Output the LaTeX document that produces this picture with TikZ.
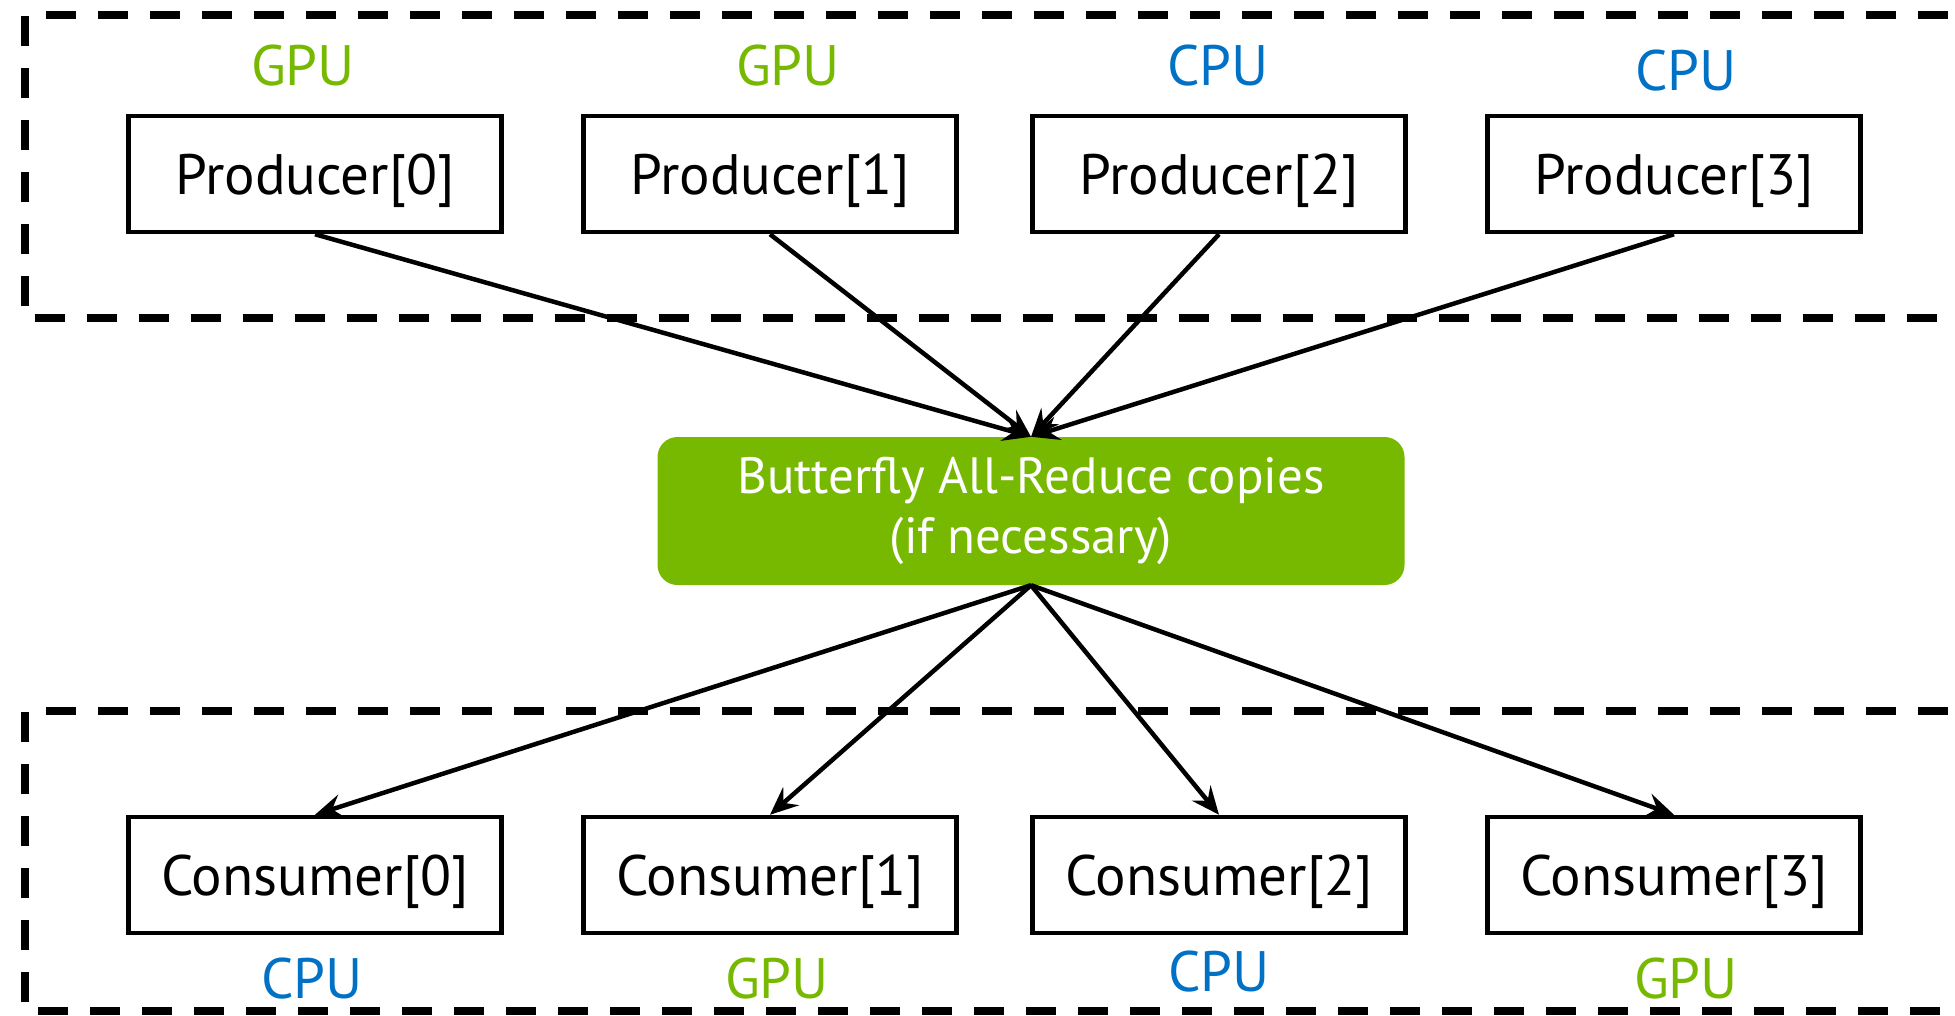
\documentclass[tikz,border=0pt]{standalone}
\usepackage{fontspec}
\setmainfont{PT Sans}
\usetikzlibrary{arrows.meta}
\definecolor{nvgreen}{HTML}{76B900}
\definecolor{cpublue}{HTML}{0071C5}
\tikzset{
  unitbox/.style={draw=black, line width=4.5pt, minimum width=373pt, minimum height=116pt,
    inner sep=0pt, text height=41pt, text depth=0pt, font=\fontsize{57}{66}\selectfont},
  reducebox/.style={fill=nvgreen, rounded corners=20pt, minimum width=747pt, minimum height=148pt,
    inner sep=0pt, text=white, align=center, font=\fontsize{51}{60}\selectfont},
  gpulabel/.style={text=nvgreen, font=\fontsize{57}{66}\selectfont},
  cpulabel/.style={text=cpublue, font=\fontsize{57}{66}\selectfont},
  region/.style={draw=black, line width=8pt, dash pattern=on 30pt off 22pt},
  flow/.style={draw=black, line width=4.5pt, -{Stealth[length=28pt, width=24pt, inset=10pt]}}
}
\begin{document}
\begin{tikzpicture}[x=1pt, y=-1pt]
\useasboundingbox (0,0) rectangle (1955,1015);

% host / device regions
\draw[region] (2000,15) -- (25,15) -- (25,318) -- (2000,318);
\draw[region] (2000,711) -- (25,711) -- (25,1011) -- (2000,1011);

% producers
\node[unitbox] (p0) at (315,174) {Producer[0]};
\node[unitbox] (p1) at (770,174) {Producer[1]};
\node[unitbox] (p2) at (1219,174) {Producer[2]};
\node[unitbox] (p3) at (1674,174) {Producer[3]};

\node[gpulabel] (lp0) at (303,66) {GPU};
\node[gpulabel] (lp1) at (788,66) {GPU};
\node[cpulabel] (lp2) at (1218,66) {CPU};
\node[cpulabel] (lp3) at (1686,71) {CPU};

% reduction step
\node[reducebox] (bf) at (1031,511) {Butterfly All-Reduce copies\\(if necessary)};

% consumers
\node[unitbox] (c0) at (315,875) {Consumer[0]};
\node[unitbox] (c1) at (770,875) {Consumer[1]};
\node[unitbox] (c2) at (1219,875) {Consumer[2]};
\node[unitbox] (c3) at (1674,875) {Consumer[3]};

\node[cpulabel] (lc0) at (312,979) {CPU};
\node[gpulabel] (lc1) at (777,979) {GPU};
\node[cpulabel] (lc2) at (1219,972) {CPU};
\node[gpulabel] (lc3) at (1686,979) {GPU};

% data flow
\foreach \p in {p0,p1,p2,p3}
  \draw[flow] (\p.south) -- (bf.north);
\foreach \c in {c0,c1,c2,c3}
  \draw[flow] (bf.south) -- (\c.north);
\end{tikzpicture}
\end{document}
